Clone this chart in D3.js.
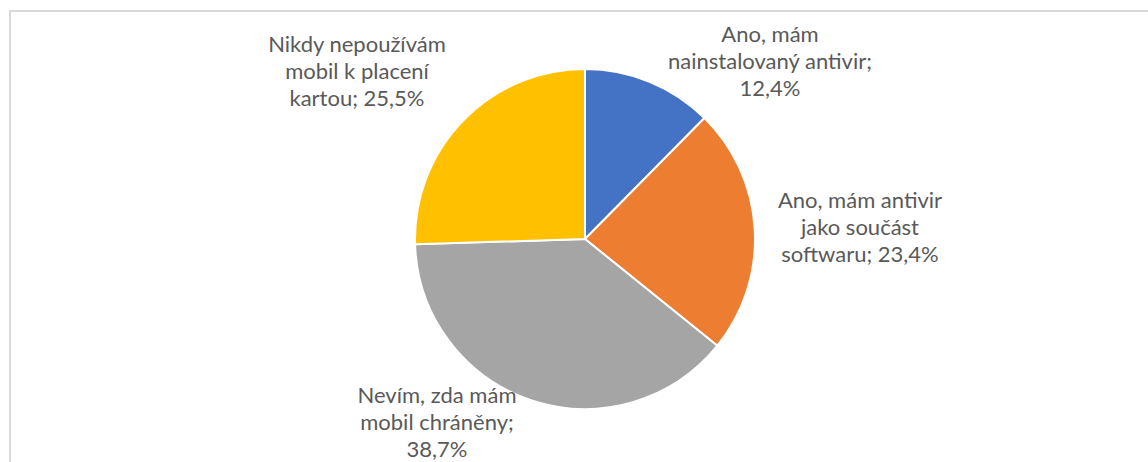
<!DOCTYPE html>
<html><head><meta charset="utf-8">
<script src="https://cdn.jsdelivr.net/npm/d3@7"></script>
<style>body{margin:0;background:#fff}svg{display:block}</style>
</head><body>
<svg id="c" width="1148" height="462"></svg>
<script>
const categories = ["Ano, mám nainstalovaný antivir", "Ano, mám antivir jako součást softwaru", "Nevím, zda mám mobil chráněny", "Nikdy nepoužívám mobil k placení kartou"];
const values = [12.4, 23.4, 38.7, 25.5];
const labelLines = [
  ["Ano, mám", "nainstalovaný antivir;", "12,4%"],
  ["Ano, mám antivir", "jako součást", "softwaru; 23,4%"],
  ["Nevím, zda mám", "mobil chráněny;", "38,7%"],
  ["Nikdy nepoužívám", "mobil k placení", "kartou; 25,5%"]
];
const colors = ["#4472C4", "#ED7D31", "#A5A5A5", "#FFC000"];
// label block centers (first baseline) – layout only
const labelPos = [[770, 42], [860, 208], [437, 403], [357, 52]];

const svg = d3.select("#c");
svg.append("rect").attr("x", 10).attr("y", 11).attr("width", 1200).attr("height", 500)
  .attr("fill", "#fff").attr("stroke", "#d9d9d9").attr("stroke-width", 2);

const cx = 585, cy = 239, r = 170;
const pie = d3.pie().sort(null).value(d => d);
const arc = d3.arc().innerRadius(0).outerRadius(r);
const g = svg.append("g").attr("transform", `translate(${cx},${cy})`);
g.selectAll("path").data(pie(values)).join("path")
  .attr("d", arc).attr("fill", (d, i) => colors[i])
  .attr("stroke", "#fff").attr("stroke-width", 2).attr("stroke-linejoin", "round");

const lab = svg.append("g").attr("font-family", "Lato, 'Open Sans', sans-serif")
  .attr("font-size", 22).attr("fill", "#595959").attr("text-anchor", "middle");
labelLines.forEach((lines, i) => {
  const t = lab.append("text").attr("x", labelPos[i][0]).attr("y", labelPos[i][1]);
  lines.forEach((s, j) => t.append("tspan").attr("x", labelPos[i][0]).attr("dy", j ? 27 : 0).text(s));
});
</script>
</body></html>
